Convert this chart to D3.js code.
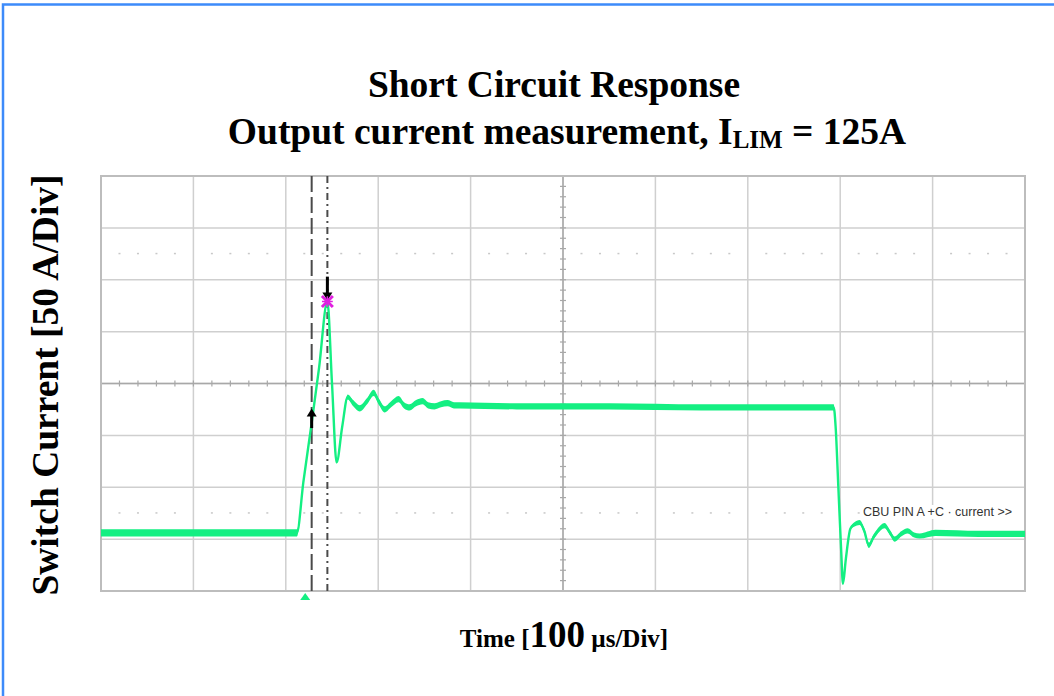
<!DOCTYPE html>
<html><head><meta charset="utf-8">
<script src="https://cdn.jsdelivr.net/npm/d3@7"></script>
<style>
html,body{margin:0;padding:0;background:#fff;}
svg{display:block;}
</style></head>
<body>
<svg id="chart" width="1054" height="696"></svg>
<script>
// ---- data ----
const timeUs = [0, 212, 219, 228, 236, 245, 250, 255, 261, 267, 273, 280, 288, 295, 301, 307, 314, 322, 328, 334, 341, 348, 354, 361, 368, 375, 382, 388, 450, 550, 650, 750, 793, 795, 798, 801, 803, 806, 811, 815, 821, 826, 831, 836, 840, 848, 854, 859, 866, 873, 880, 886, 903, 950, 1000];
const currentA = [6, 6, 55, 112, 165, 229, 150, 74, 108, 137, 131, 126, 133, 141, 132, 125, 130, 135, 129, 127, 131, 133, 129, 128, 130, 131, 129, 129, 128, 128, 127, 127, 127, 109, 50, -10, -43, -20, 10, 14, 16, 8, -6, 2, 7, 13, 6, 0, 5, 8, 4, 3, 6, 5, 5];
// peak-to-peak noise band of the trace (A)
const noiseA = [7, 7, 0, 0, 0, 0, 0, 0, 2, 5, 6, 6, 6, 6, 6, 6, 6, 6, 6, 6, 6, 6, 6, 6, 6, 6, 6, 6, 6, 6, 6, 6, 6, 0, 0, 0, 0, 0, 2, 4, 5, 5, 5, 5, 5, 5, 5, 5, 5, 5, 5, 5, 6, 6, 6];

const xDomainUs = [0, 1000];      // 10 div x 100 us
const yDomainA = [-50, 350];      // 8 div x 50 A
const cursorTimesUs = [228, 245];
const cursorStyles = ["16,5", "7,4,2,4"];
const arrowTimesUs = [245, 228];
const arrowFromA = [253, 107];
const arrowToA = [230, 126];
const peakTimeUs = 245, peakA = 229;
const triggerTimeUs = 221;
const titleLine1 = "Short Circuit Response";
const yLabel = "Switch Current [50 A/Div]";
const traceLabel = "CBU PIN A +C \u00b7 current >>";

// ---- layout ----
const svg = d3.select("#chart");
const L = 101, R = 1025, T = 176, B = 591;
const x = d3.scaleLinear().domain(xDomainUs).range([L, R]);
const y = d3.scaleLinear().domain(yDomainA).range([B, T]);
const green = "#14ef82";

// blue outer border
svg.append("rect").attr("x", 3).attr("y", 4.5).attr("width", 1200).attr("height", 900)
  .attr("fill", "none").attr("stroke", "#3d8bfa").attr("stroke-width", 2.5);

const g = svg.append("g");

// grid
const xt = d3.range(xDomainUs[0], xDomainUs[1] + 1, 100);
const yt = d3.range(yDomainA[0], yDomainA[1] + 1, 50);
g.selectAll(".vg").data(xt).join("line")
  .attr("x1", d => x(d)).attr("x2", d => x(d)).attr("y1", T).attr("y2", B)
  .attr("stroke", "#cfcfcf").attr("stroke-width", 1.5);
g.selectAll(".hg").data(yt).join("line")
  .attr("x1", L).attr("x2", R).attr("y1", d => y(d)).attr("y2", d => y(d))
  .attr("stroke", "#cfcfcf").attr("stroke-width", 1.5);

// dotted lines
const dotX = d3.range(20, 1000, 20).filter(d => d % 100 !== 0);
[25, 275].forEach(a => {
  g.selectAll(null).data(dotX).join("rect")
    .attr("x", d => x(d) - 1).attr("y", y(a) - 1).attr("width", 2).attr("height", 1.5)
    .attr("fill", "#c8c8c8");
});

// center axes with minor ticks
const cx = 500, cy = 150;
g.append("line").attr("x1", L).attr("x2", R).attr("y1", y(cy)).attr("y2", y(cy))
  .attr("stroke", "#a8a8a8").attr("stroke-width", 1.5);
g.append("line").attr("x1", x(cx)).attr("x2", x(cx)).attr("y1", T).attr("y2", B)
  .attr("stroke", "#a8a8a8").attr("stroke-width", 1.5);
g.selectAll(null).data(d3.range(20, 1000, 20)).join("line")
  .attr("x1", d => x(d)).attr("x2", d => x(d)).attr("y1", y(cy) - 3).attr("y2", y(cy) + 3)
  .attr("stroke", "#a8a8a8").attr("stroke-width", 1.2);
g.selectAll(null).data(d3.range(-40, 350, 10)).join("line")
  .attr("y1", d => y(d)).attr("y2", d => y(d)).attr("x1", x(cx) - 3).attr("x2", x(cx) + 3)
  .attr("stroke", "#a8a8a8").attr("stroke-width", 1.2);

// frame
g.append("rect").attr("x", L).attr("y", T).attr("width", R - L).attr("height", B - T)
  .attr("fill", "none").attr("stroke", "#bdbdbd").attr("stroke-width", 2);

// trace label (with white backing hiding the dotted line)
const lbl = g.append("text").attr("x", 863).attr("y", 516)
  .attr("font-family", "Liberation Sans, Arial, sans-serif").attr("font-size", 12.5)
  .attr("fill", "#333").attr("xml:space", "preserve").text(traceLabel);
const bb = lbl.node().getBBox();
g.insert("rect", "text").attr("x", bb.x - 2).attr("y", bb.y).attr("width", bb.width + 6)
  .attr("height", bb.height).attr("fill", "#fff");

// cursors
g.selectAll(".cur").data(cursorTimesUs).join("line")
  .attr("x1", d => x(d)).attr("x2", d => x(d)).attr("y1", T).attr("y2", B)
  .attr("stroke", "#4a4a4a").attr("stroke-width", 2)
  .attr("stroke-dasharray", (d, i) => cursorStyles[i]);

// trace: noise band + line
const pts = timeUs.map((t, i) => ({t, a: currentA[i], n: noiseA[i]}));
g.append("path").datum(pts)
  .attr("d", d3.area().curve(d3.curveMonotoneX).x(d => x(d.t))
    .y0(d => y(d.a - d.n / 2)).y1(d => y(d.a + d.n / 2)))
  .attr("fill", green);
g.append("path").datum(pts)
  .attr("d", d3.line().curve(d3.curveMonotoneX).x(d => x(d.t)).y(d => y(d.a)))
  .attr("fill", "none").attr("stroke", green).attr("stroke-width", 2.4)
  .attr("stroke-linejoin", "round");

// arrows
arrowTimesUs.forEach((t, i) => {
  const x0 = x(t), y0 = y(arrowFromA[i]), y1 = y(arrowToA[i]);
  const dir = Math.sign(y1 - y0);
  g.append("line").attr("x1", x0).attr("x2", x0).attr("y1", y0).attr("y2", y1 - dir * 5)
    .attr("stroke", "#000").attr("stroke-width", 3);
  g.append("path")
    .attr("d", `M${x0 - 5},${y1 - dir * 8} L${x0 + 5},${y1 - dir * 8} L${x0},${y1} Z`)
    .attr("fill", "#000");
});

// peak marker
g.append("path").attr("transform", `translate(${x(peakTimeUs)},${y(peakA)})`)
  .attr("d", d3.symbol(d3.symbolTimes, 80)())
  .attr("fill", "none").attr("stroke", "#e020e0").attr("stroke-width", 3);
g.append("path").attr("transform", `translate(${x(peakTimeUs)},${y(peakA)})`)
  .attr("d", d3.symbol(d3.symbolPlus, 40)())
  .attr("fill", "none").attr("stroke", "#e020e0").attr("stroke-width", 1.5);

// trigger marker
const tx = x(triggerTimeUs);
g.append("path").attr("d", `M${tx - 5},${B + 9} L${tx + 5},${B + 9} L${tx},${B + 2} Z`)
  .attr("fill", green);

// titles
const serif = "Liberation Serif, Times New Roman, serif";
svg.append("text").attr("x", 554).attr("y", 97).attr("text-anchor", "middle")
  .attr("font-family", serif).attr("font-weight", "bold").attr("font-size", 37.5).text(titleLine1);
const t2 = svg.append("text").attr("x", 567).attr("y", 144).attr("text-anchor", "middle")
  .attr("font-family", serif).attr("font-weight", "bold").attr("font-size", 37.5);
t2.append("tspan").text("Output current measurement, I");
t2.append("tspan").attr("font-size", 25).attr("dy", 4).text("LIM");
t2.append("tspan").attr("dy", -4).text(" = 125A");

// y label
svg.append("text").attr("transform", "translate(58,385) rotate(-90)").attr("text-anchor", "middle")
  .attr("font-family", serif).attr("font-weight", "bold").attr("font-size", 37.5).text(yLabel);

// x label
const xl = svg.append("text").attr("x", 564).attr("y", 647).attr("text-anchor", "middle")
  .attr("font-family", serif).attr("font-weight", "bold").attr("font-size", 25);
xl.append("tspan").text("Time [");
xl.append("tspan").attr("font-size", 37).text("100");
xl.append("tspan").text(" \u00b5s/Div]");
</script>
</body></html>
